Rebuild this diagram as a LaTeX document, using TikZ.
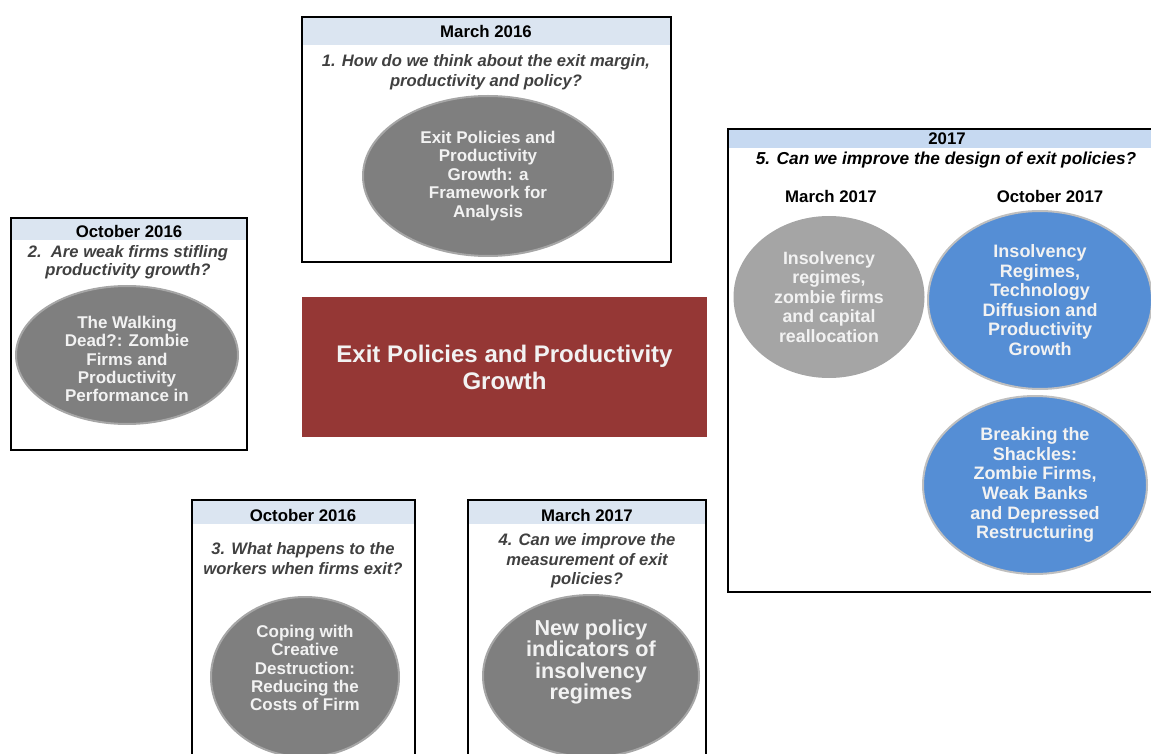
\documentclass[tikz,border=0pt]{standalone}
\usepackage{xcolor}
\usepackage{tikz}
\usepackage{fontspec}
\setmainfont{Liberation Sans}
\usetikzlibrary{shapes}
\usetikzlibrary{positioning}
\definecolor{bandblue}{RGB}{219,229,241}
\definecolor{bandblue2}{RGB}{198,217,241}
\definecolor{ovalgrey}{RGB}{127,127,127}
\definecolor{ovalrim}{RGB}{166,166,166}
\definecolor{lightoval}{RGB}{165,165,165}
\definecolor{ovalblue}{RGB}{85,142,213}
\definecolor{bluerim}{RGB}{191,191,191}
\definecolor{hubred}{RGB}{149,55,53}
\definecolor{qgrey}{RGB}{64,64,64}

\begin{document}
\begin{tikzpicture}[x=0.5pt,y=-0.5pt]
\tikzset{
    frame/.style = {draw=black, line width=0.7pt},
    datelabel/.style = {font=\fontsize{8.4}{9.5}\selectfont\bfseries, inner sep=0pt},
    question/.style = {font=\fontsize{8.3}{9.6}\selectfont\bfseries\itshape, text=qgrey, align=center, inner sep=0pt},
    paper/.style = {ellipse, fill=ovalgrey, draw=ovalrim, line width=1pt, inner sep=0pt, text=white!95!black, align=center, font=\fontsize{8.5}{9.2}\selectfont\bfseries},
    papertext/.style = {inner sep=0pt, text=white!95!black, align=center, font=\fontsize{8.5}{9.2}\selectfont\bfseries},
    bluepaper/.style = {paper, fill=ovalblue, draw=bluerim, font=\fontsize{9}{9.8}\selectfont\bfseries},
    hub/.style = {rectangle, fill=hubred, text=white!95!black, align=center, inner sep=0pt, font=\fontsize{12}{13.5}\selectfont\bfseries},
}
\useasboundingbox (0,0) rectangle (1151,754);
\clip (0,0) rectangle (1151,754);

% box 1
\fill[bandblue] (302,17) rectangle (671,45);
\draw[frame] (302,17) rectangle (671,262);
\node[datelabel] (d1) at (486,31) {March 2016};
\node[question, font=\fontsize{8.3}{10}\selectfont\bfseries\itshape] (q1) at (486,72) {1. How do we think about the exit margin,\\productivity and policy?};
\node[paper, minimum width=125pt, minimum height=80pt] (p1) at (488,176)
  {Exit Policies and\\Productivity\\Growth: a\\Framework for\\Analysis};

% box 2
\fill[bandblue] (11,218) rectangle (247,240);
\draw[frame] (11,218) rectangle (247,450);
\node[datelabel] (d2) at (129,231) {October 2016};
\node[question, font=\fontsize{8.3}{9}\selectfont\bfseries\itshape] (q2) at (128,262) {2.\ \ Are weak firms stifling\\productivity growth?};
\node[paper, minimum width=111pt, minimum height=69pt] (p2) at (127,355) {};
\node[papertext] (p2t) at (127,359)
  {The Walking\\Dead?: Zombie\\Firms and\\Productivity\\Performance in};

% box 3
\fill[bandblue] (192,500) rectangle (415,524);
\draw[frame] (192,500) rectangle (415,790);
\node[datelabel] (d3) at (303,515) {October 2016};
\node[question] (q3) at (303,558.5) {3. What happens to the\\workers when firms exit?};
\node[paper, minimum width=94pt, minimum height=80pt] (p3) at (305,677) {};
\node[papertext] (p3t) at (305,668)
  {Coping with\\Creative\\Destruction:\\Reducing the\\Costs of Firm};

% box 4
\fill[bandblue] (468,500) rectangle (706,524);
\draw[frame] (468,500) rectangle (706,790);
\node[datelabel] (d4) at (587,515) {March 2017};
\node[question, font=\fontsize{8.3}{9.8}\selectfont\bfseries\itshape] (q4) at (587,561) {4. Can we improve the\\measurement of exit\\policies?};
\node[paper, minimum width=108pt, minimum height=81pt] (p4) at (591,676) {};
\node[papertext, font=\fontsize{10.8}{10.7}\selectfont\bfseries] (p4t) at (591,662)
  {New policy\\indicators of\\insolvency\\regimes};

% centre
\node[hub, minimum width=202.5pt, minimum height=70pt] (hub) at (504.5,367)
  {Exit Policies and Productivity\\Growth};

% box 5
\fill[bandblue2] (728,129) rectangle (1180,148);
\draw[frame] (728,129) rectangle (1180,592);
\node[datelabel] (d5) at (947,139) {2017};
\node[question, text=black, font=\fontsize{8.65}{9.6}\selectfont\bfseries\itshape] (q5) at (946,160) {5. Can we improve the design of exit policies?};
\node[datelabel] (m17) at (831,196) {March 2017};
\node[datelabel] (o17) at (1050,196) {October 2017};
\node[paper, fill=lightoval, draw=lightoval, minimum width=94.5pt, minimum height=80pt, font=\fontsize{8.9}{9.8}\selectfont\bfseries] (p5) at (829,297)
  {Insolvency\\regimes,\\zombie firms\\and capital\\reallocation};
\node[bluepaper, minimum width=112pt, minimum height=89pt] (p6) at (1040,300)
  {Insolvency\\Regimes,\\Technology\\Diffusion and\\Productivity\\Growth};
\node[bluepaper, minimum width=112pt, minimum height=89pt] (p7) at (1035,485)
  {Breaking the\\Shackles:\\Zombie Firms,\\Weak Banks\\and Depressed\\Restructuring};
\end{tikzpicture}
\end{document}
